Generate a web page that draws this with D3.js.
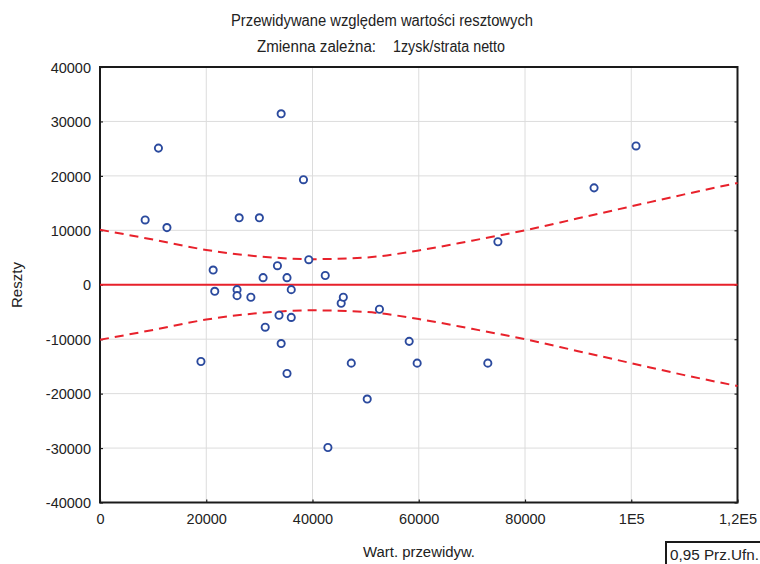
<!DOCTYPE html>
<html><head><meta charset="utf-8">
<script src="https://cdn.jsdelivr.net/npm/d3@7/dist/d3.min.js"></script>
<style>body{margin:0;background:#fff}svg{display:block}text{font-family:"Liberation Sans",Arial,sans-serif;fill:#222}</style>
</head><body>
<script>
const predicted = [8500,11000,12600,19000,21300,21600,25800,25800,26200,28400,30000,30700,31100,33400,33700,34100,34100,35200,35200,36000,36000,38300,39300,42400,42900,45400,45800,47300,50300,52600,58200,59700,73000,74900,93000,100900];
const residuals = [11900,25100,10500,-14100,2700,-1200,-900,-2000,12300,-2300,12300,1300,-7800,3500,-5600,-10800,31400,1300,-16300,-900,-6000,19300,4600,1700,-29900,-3400,-2300,-14400,-21000,-4500,-10400,-14400,-14400,7900,17800,25500];
const bandX = [0,10000,20000,30000,40000,50000,60000,70000,80000,90000,100000,110000,120000];
const bandUpper = [10100,8300,6400,5200,4700,5000,6300,8100,10000,12200,14400,16600,18700];
const bandLower = [-10100,-8300,-6400,-5200,-4700,-5000,-6300,-8100,-10000,-12200,-14400,-16600,-18600];
const xTicks = [0,20000,40000,60000,80000,100000,120000];
const xTickLabels = ["0","20000","40000","60000","80000","1E5","1,2E5"];
const yTicks = [40000,30000,20000,10000,0,-10000,-20000,-30000,-40000];

const W=760,H=564;
const L=100,R=737.5,T=67,B=502.5;
const svg=d3.select("body").append("svg").attr("width",W).attr("height",H);
const x=d3.scaleLinear().domain([0,120000]).range([L,R]);
const y=d3.scaleLinear().domain([-40000,40000]).range([B,T]);

// grid
svg.append("g").selectAll("line").data(xTicks.slice(1,-1)).join("line")
  .attr("x1",d=>x(d)).attr("x2",d=>x(d)).attr("y1",T).attr("y2",B).attr("stroke","#dcdcdc").attr("stroke-width",1);
svg.append("g").selectAll("line").data(yTicks.slice(1,-1)).join("line")
  .attr("y1",d=>y(d)).attr("y2",d=>y(d)).attr("x1",L).attr("x2",R).attr("stroke","#dcdcdc").attr("stroke-width",1);

// axes
const fmtX = d=>xTickLabels[xTicks.indexOf(d)];
const gx=svg.append("g").attr("transform",`translate(0,${B})`)
  .call(d3.axisBottom(x).tickValues(xTicks).tickFormat(fmtX).tickSizeInner(-3).tickSizeOuter(0).tickPadding(11));
const gy=svg.append("g").attr("transform",`translate(${L},0)`)
  .call(d3.axisLeft(y).tickValues(yTicks).tickFormat(d3.format("d")).tickSizeInner(-3).tickSizeOuter(0).tickPadding(9));
const gyr=svg.append("g").attr("transform",`translate(${R},0)`)
  .call(d3.axisRight(y).tickValues(yTicks).tickFormat("").tickSizeInner(-3).tickSizeOuter(0));
[gx,gy,gyr].forEach(g=>{g.select(".domain").remove();g.selectAll("line").attr("stroke","#222").attr("stroke-width",1.2);
  g.selectAll("text").style("font-size","14.5px").attr("fill","#222");});
gy.selectAll("text").text(d=>d<0?"-"+Math.abs(d):d).attr("dy","0.36em");
gx.selectAll("text").attr("dy","0.71em");

// frame
svg.append("rect").attr("x",L).attr("y",T).attr("width",R-L).attr("height",B-T)
  .attr("fill","none").attr("stroke","#1a1a1a").attr("stroke-width",2);

// zero line
svg.append("line").attr("x1",x(0)).attr("x2",x(120000)).attr("y1",y(0)).attr("y2",y(0))
  .attr("stroke","#e8212b").attr("stroke-width",2);

// bands
const line=d3.line().x(d=>x(d[0])).y(d=>y(d[1])).curve(d3.curveMonotoneX);
[bandUpper,bandLower].forEach(b=>{
  svg.append("path").attr("d",line(bandX.map((v,i)=>[v,b[i]])))
   .attr("fill","none").attr("stroke","#e8212b").attr("stroke-width",2).attr("stroke-dasharray","9,6");
});

// points
svg.append("g").selectAll("circle").data(predicted.map((v,i)=>[v,residuals[i]])).join("circle")
  .attr("cx",d=>x(d[0])).attr("cy",d=>y(d[1])).attr("r",3.6)
  .attr("fill","#fff").attr("stroke","#2b4a9e").attr("stroke-width",1.9);

// titles
function txt(xp,yp,s,len,size){
  return svg.append("text").attr("x",xp).attr("y",yp).style("font-size",size+"px")
    .attr("textLength",len).attr("lengthAdjust","spacingAndGlyphs").text(s);
}
txt(231,25.5,"Przewidywane względem wartości resztowych",302,16);
txt(257,52,"Zmienna zależna:",119,16);
txt(393,52,"1zysk/strata netto",112,16);
txt(363,557,"Wart. przewidyw.",112,15.5);
svg.append("text").attr("transform","translate(22,308) rotate(-90)").style("font-size","15.5px")
  .attr("textLength",46).attr("lengthAdjust","spacingAndGlyphs").text("Reszty");

// legend box
svg.append("rect").attr("x",666).attr("y",542).attr("width",100).attr("height",26).attr("fill","#fff").attr("stroke","#1a1a1a").attr("stroke-width",2);
txt(670,560,"0,95 Prz.Ufn.",89,15.5);
</script>
</body></html>
